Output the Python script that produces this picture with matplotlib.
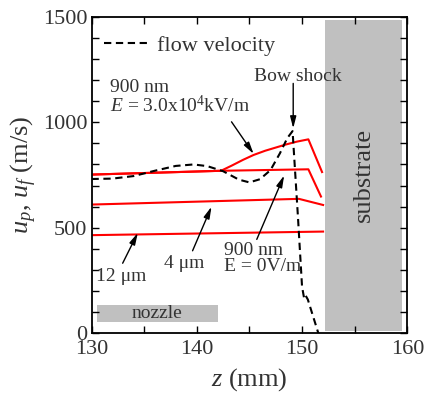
import matplotlib
matplotlib.use("Agg")
import matplotlib.pyplot as plt
from matplotlib.ticker import MultipleLocator
from matplotlib.patches import Rectangle

plt.rcParams['font.family'] = ['Liberation Serif', 'DejaVu Serif']
plt.rcParams['mathtext.fontset'] = 'custom'
plt.rcParams['mathtext.rm'] = 'Liberation Serif'
plt.rcParams['mathtext.it'] = 'Liberation Serif:italic'

# particle velocities along the jet axis
z_12um = [130, 152.0]
u_12um = [465, 482]

z_4um = [130, 149.7, 152.0]
u_4um = [610, 637, 608]

z_900_e0 = [130, 142.3, 150.6, 151.8]
u_900_e0 = [752, 770, 777, 648]

z_900_e = [130, 142.3, 143.3, 144.4, 145.4, 146.5, 147.5, 148.5, 149.5, 150.6, 151.9]
u_900_e = [752, 770, 794, 822, 845, 865, 880, 895, 908, 919, 764]

# gas flow velocity
z_flow = [130, 132, 134, 136, 138, 139.7, 141, 142.5, 144, 145, 146, 147,
          147.9, 148.6, 149.1, 149.6, 150.0, 150.2, 150.35, 150.55, 151.55]
u_flow = [731, 733, 745, 770, 793, 800, 792, 768, 728, 715, 730, 773,
          853, 925, 958, 560, 221, 165, 178, 160, 0]

fig = plt.figure(figsize=(4.25, 3.95), dpi=100)
ax = fig.add_axes([0.2153, 0.1562, 0.7431, 0.8015])

red = '#ff0000'
ax.plot(z_12um, u_12um, color=red, lw=1.5)
ax.plot(z_4um, u_4um, color=red, lw=1.5)
ax.plot(z_900_e0, u_900_e0, color=red, lw=1.5)
ax.plot(z_900_e, u_900_e, color=red, lw=1.5)
flow, = ax.plot(z_flow, u_flow, color='black', lw=1.5, ls=(0, (3.5, 2.2)),
                label='flow velocity')

# substrate and nozzle blocks
ax.add_patch(Rectangle((152.2, 12), 7.3, 1472, facecolor='#c0c0c0',
                       edgecolor='none', zorder=0))
ax.text(155.85, 750, 'substrate', rotation=90, ha='center', va='center',
        fontsize=19, color='#333333')
ax.add_patch(Rectangle((130.5, 55), 11.5, 79, facecolor='#c0c0c0',
                       edgecolor='none', zorder=0))
ax.text(136.25, 94, 'nozzle', ha='center', va='center', fontsize=14,
        color='#333333')

arrow = dict(arrowstyle='-|>,head_length=0.7,head_width=0.18',
             color='black', lw=1.0, shrinkA=0, shrinkB=0)
tc = '#333333'
ax.text(131.75, 1118, '900 nm\n$E$ = 3.0x10$^4$kV/m', ha='left', va='center',
        fontsize=14, color=tc, linespacing=0.95)
ax.annotate('', xy=(145.4, 850), xytext=(143.3, 1002), arrowprops=arrow)
ax.text(149.6, 1219, 'Bow shock', ha='center', va='center', fontsize=14,
        color=tc)
ax.annotate('', xy=(149.16, 971), xytext=(149.16, 1184), arrowprops=arrow)
ax.text(142.6, 353, '900 nm\nE = 0V/m', ha='left', va='center',
        fontsize=14, color=tc, linespacing=0.95)
ax.annotate('', xy=(148.3, 748), xytext=(145.7, 445), arrowprops=arrow)
ax.text(138.85, 332, '4 μm', ha='center', va='center', fontsize=14, color=tc)
ax.annotate('', xy=(141.4, 600), xytext=(139.6, 391), arrowprops=arrow)
ax.text(132.8, 268, '12 μm', ha='center', va='center', fontsize=14, color=tc)
ax.annotate('', xy=(134.4, 476), xytext=(132.96, 332), arrowprops=arrow)

ax.legend(handles=[flow], loc='upper left', bbox_to_anchor=(0.04, 0.94),
          frameon=False, fontsize=16, handlelength=2.1, handletextpad=0.3,
          borderpad=0, borderaxespad=0, labelcolor=tc)

ax.set_xlim(130, 160)
ax.set_ylim(0, 1500)
ax.xaxis.set_major_locator(MultipleLocator(10))
ax.xaxis.set_minor_locator(MultipleLocator(5))
ax.yaxis.set_major_locator(MultipleLocator(500))
ax.yaxis.set_minor_locator(MultipleLocator(100))
ax.tick_params(which='both', direction='in', top=True, right=True,
               length=5, width=1.0, labelsize=16, labelcolor=tc)
ax.tick_params(axis='x', pad=5)
ax.tick_params(axis='y', pad=3)
for s in ax.spines.values():
    s.set_linewidth(1.3)

ax.set_xlabel('$z$ (mm)', fontsize=19, color=tc, labelpad=5)
ax.set_ylabel('$u_p$, $u_f$ (m/s)', fontsize=19, color=tc, labelpad=3)

fig.savefig('out.png', dpi=100)
